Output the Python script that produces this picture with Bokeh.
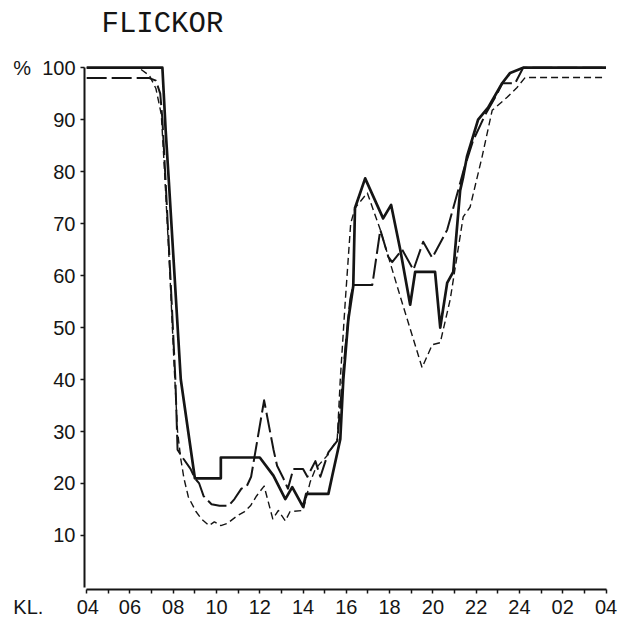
from bokeh.plotting import figure
from bokeh.models import Range1d, FixedTicker, LinearAxis
from bokeh.embed import file_html
from bokeh.resources import INLINE

# ---- data (hour of day, percent) ----
solid_h = [4.0, 7.5, 7.65, 7.8, 8.35, 9.0, 10.2, 10.2, 12.0, 12.63, 13.18, 13.5, 14.0, 14.15,
           15.17, 15.35, 15.72, 15.86, 16.09, 16.32, 16.4, 16.87, 17.7, 18.07, 18.49, 18.95,
           19.18, 20.1, 20.34, 20.66, 20.94, 21.26, 21.4, 21.58, 22.09, 22.55, 23.2, 23.57,
           24.17, 28.0]
solid_pct = [100, 100, 88, 78, 40, 21, 21, 25, 25, 21.5, 17, 19.3, 15.5, 18,
             18, 21.5, 28.5, 40, 51.5, 58, 73, 78.7, 71, 73.6, 65, 54.4,
             60.7, 60.7, 50, 58.6, 60.7, 76.4, 79, 83, 90, 92.3, 97, 99,
             100, 100]

dash_h = [4.0, 6.9, 7.2, 7.4, 7.5, 7.65, 7.88, 8.1, 8.2, 8.48, 8.8, 9.0, 9.2, 9.4, 9.77,
          10.14, 10.56, 10.83, 11.15, 11.4, 11.6, 12.2, 12.63, 12.8, 13.1, 13.3, 13.55, 14.0,
          14.2, 14.57, 14.8, 15.17, 15.58, 15.95, 16.18, 16.32, 17.2, 17.57, 17.94, 18.12,
          18.58, 19.1, 19.55, 19.97, 20.66, 21.26, 21.4, 21.86, 22.4, 22.97, 23.2, 23.8,
          24.17, 28.0]
dash_pct = [98, 98, 97.5, 95, 90, 78, 59, 40, 26.5, 24.7, 22.8, 21, 20, 17.6, 16,
            15.7, 15.7, 17, 19, 19.5, 21.3, 36, 26.6, 23.4, 20.9, 19, 22.8, 22.8,
            21.3, 24.3, 21.3, 26, 28.2, 45.8, 55.4, 58.2, 58.2, 68.8, 63.6, 62.6,
            65, 61.1, 66.5, 63.4, 68.8, 77.8, 80, 86, 90.8, 95, 97, 97,
            100, 100]

dot_h = [4.0, 6.4, 6.9, 7.2, 7.45, 7.6, 7.85, 8.05, 8.2, 8.35, 8.5, 8.7, 9.05, 9.3, 9.65,
         9.9, 10.2, 10.5, 10.96, 11.3, 11.57, 11.85, 12.2, 12.6, 12.86, 13.18, 13.4, 14.0,
         14.33, 14.57, 15.1, 15.58, 15.72, 15.95, 16.2, 16.4, 16.97, 17.57, 18.49, 19.5,
         19.97, 20.34, 20.8, 21.4, 21.72, 22.27, 22.74, 23.43, 23.89, 24.26, 28.0]
dot_pct = [100, 100, 98.5, 96, 91, 80, 60, 42, 30, 24.7, 20.9, 17.4, 14.6, 13.2, 11.9,
           12.6, 11.9, 12.3, 13.8, 14.6, 15.7, 17.6, 19.5, 13.2, 14.8, 12.8, 14.6, 14.8,
           20.3, 22.8, 25.3, 28.5, 40, 55, 70, 73, 75.9, 68.8, 56, 42.3,
           46.7, 47.1, 55.4, 71.3, 73.2, 82.8, 91.8, 94.3, 96.2, 98.1, 98.1]

x_ticks = [4, 6, 8, 10, 12, 14, 16, 18, 20, 22, 24, 26, 28]
x_tick_labels = ["04", "06", "08", "10", "12", "14", "16", "18", "20", "22", "24", "02", "04"]
x_minor_ticks = [5, 7, 9, 11, 13, 15, 17, 19, 21, 23, 25, 27]
y_ticks = [10, 20, 30, 40, 50, 60, 70, 80, 90, 100]

title_text = "FLICKOR"
y_unit_text = "%"
x_unit_text = "KL."

INK = "#151515"
TICK_FONT = "Liberation Sans"
NB = "\u00a0"
TITLE_CENTER_HOUR = 7.5   # horizontal anchor of the heading (layout constant)

p = figure(width=620, height=620, output_backend="svg", toolbar_location=None,
           x_range=Range1d(3.9, 28.3), y_range=Range1d(-0.4, 101),
           min_border_left=84, min_border_right=8, min_border_top=62, min_border_bottom=29)
p.outline_line_color = None
p.grid.visible = False
p.background_fill_color = "white"
p.border_fill_color = "white"
p.title.text = ""

xa = p.below[0]
ya = p.left[0]

p.line(dot_h, dot_pct, line_width=1.4, color=INK, line_dash="7 4", line_join="round")
p.line(dash_h, dash_pct, line_width=2.0, color=INK, line_dash="20 5", line_join="round")
p.line(solid_h, solid_pct, line_width=2.7, color=INK, line_join="round")

xa.ticker = FixedTicker(ticks=x_ticks, minor_ticks=x_minor_ticks)
x_over = {t: l for t, l in zip(x_ticks, x_tick_labels)}
# unit text "KL." shares the first tick label's line; padding keeps "04" centred on its tick
x_over[x_ticks[0]] = x_unit_text + NB * 6 + x_tick_labels[0] + NB * 11
xa.major_label_overrides = x_over
xa.bounds = (4, 28)
xa.axis_line_width = 2
xa.axis_line_color = INK
xa.major_tick_line_color = INK
xa.minor_tick_line_color = INK
xa.major_tick_line_width = 1.5
xa.minor_tick_line_width = 1.5
xa.major_tick_in = 0
xa.major_tick_out = 4
xa.minor_tick_in = 0
xa.minor_tick_out = 4
xa.major_label_standoff = 2
xa.major_label_text_font = TICK_FONT
xa.major_label_text_font_size = "20px"
xa.major_label_text_color = INK

ya.ticker = FixedTicker(ticks=y_ticks, minor_ticks=[])
# unit text "%" sits left of the top tick label
ya.major_label_overrides = {y_ticks[-1]: y_unit_text + NB * 2 + str(y_ticks[-1])}
ya.bounds = (0, 100)
ya.axis_line_width = 2
ya.axis_line_color = INK
ya.major_tick_line_color = INK
ya.major_tick_line_width = 1.5
ya.major_tick_in = 0
ya.major_tick_out = 4
ya.minor_tick_line_color = None
ya.major_label_standoff = 5
ya.major_label_text_font = TICK_FONT
ya.major_label_text_font_size = "20px"
ya.major_label_text_color = INK

# heading drawn as the single label of an invisible top axis
head = LinearAxis(ticker=FixedTicker(ticks=[TITLE_CENTER_HOUR], minor_ticks=[]),
                  major_label_overrides={TITLE_CENTER_HOUR: title_text},
                  axis_line_color=None, major_tick_line_color=None, minor_tick_line_color=None,
                  major_tick_in=0, major_tick_out=0, minor_tick_in=0, minor_tick_out=0,
                  major_label_standoff=22, major_label_text_font="Liberation Mono",
                  major_label_text_font_size="29px", major_label_text_color=INK)
p.add_layout(head, "above")

open("out.html", "w").write(file_html(p, INLINE))
